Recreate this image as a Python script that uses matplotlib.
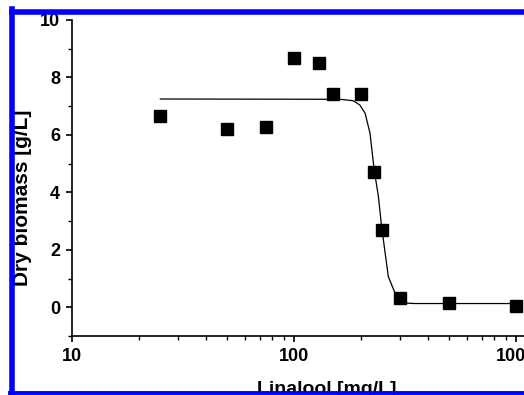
import matplotlib
matplotlib.use("Agg")
from matplotlib import pyplot as plt
from matplotlib.lines import Line2D
from matplotlib.ticker import FixedLocator, NullFormatter

# measured points
conc = [25, 50, 75, 100, 130, 150, 200, 230, 250, 300, 500, 1000]
biomass = [6.67, 6.21, 6.28, 8.69, 8.49, 7.42, 7.44, 4.71, 2.70, 0.32, 0.14, 0.04]

# fitted curve
fit_x = [25, 161, 185, 198, 209, 220, 227, 231, 240, 248, 266, 285, 311, 350, 1000]
fit_y = [7.25, 7.24, 7.19, 7.04, 6.76, 6.06, 5.13, 4.67, 3.86, 2.82, 1.07, 0.50, 0.15, 0.13, 0.13]

y_major = [0, 2, 4, 6, 8, 10]
y_minor = [-1, 1, 3, 5, 7, 9]
x_major = [10, 100, 1000]
x_labels = ["10", "100", "1000"]

plt.rcParams['font.family'] = ['Liberation Sans', 'DejaVu Sans']
plt.rcParams['font.weight'] = 'bold'

fig = plt.figure(figsize=(5.24, 3.95), dpi=100)
ax = fig.add_axes([72 / 524, 59 / 395, 510.8 / 524, 316 / 395])

ax.plot(fit_x, fit_y, color='black', lw=0.9, zorder=2)
ax.plot(conc, biomass, 's', color='black', markersize=8.6, zorder=3)

ax.set_xscale('log')
ax.set_xlim(10, 2000)
ax.set_ylim(-1, 10)

ax.set_xticks(x_major)
ax.set_xticklabels(x_labels)
ax.set_yticks(y_major)
ax.yaxis.set_minor_locator(FixedLocator(y_minor))
ax.yaxis.set_minor_formatter(NullFormatter())
ax.xaxis.set_minor_formatter(NullFormatter())

ax.spines['top'].set_visible(False)
ax.spines['right'].set_visible(False)
for s in ['left', 'bottom']:
    ax.spines[s].set_linewidth(1.2)

ax.tick_params(which='major', direction='out', length=4.5, width=1.2,
               labelsize=13, pad=4)
ax.tick_params(which='minor', direction='out', length=3, width=1.0)
for lab in ax.get_xticklabels() + ax.get_yticklabels():
    lab.set_fontweight('bold')

ax.set_xlabel('Linalool [mg/L]', fontsize=14, fontweight='bold')
ax.set_ylabel('Dry biomass [g/L]', fontsize=15, fontweight='bold')
ax.xaxis.set_label_coords(0.499, -0.142)
ax.yaxis.set_label_coords(-0.078, 0.437)

# blue frame around the figure (cropped on the right)
blue = (0, 0, 1)
fig.lines.append(Line2D([12.3 / 524, 1.05], [1 - 11.7 / 395, 1 - 11.7 / 395],
                        transform=fig.transFigure, color=blue, lw=4.0, zorder=5))
fig.lines.append(Line2D([12.3 / 524, 12.3 / 524], [1 - 9 / 395, 1.6 / 395],
                        transform=fig.transFigure, color=blue, lw=4.0, zorder=5))
fig.lines.append(Line2D([9.5 / 524, 1.05], [1.8 / 395, 1.8 / 395],
                        transform=fig.transFigure, color=blue, lw=2.8, zorder=5))

fig.savefig('out.png', dpi=100)
